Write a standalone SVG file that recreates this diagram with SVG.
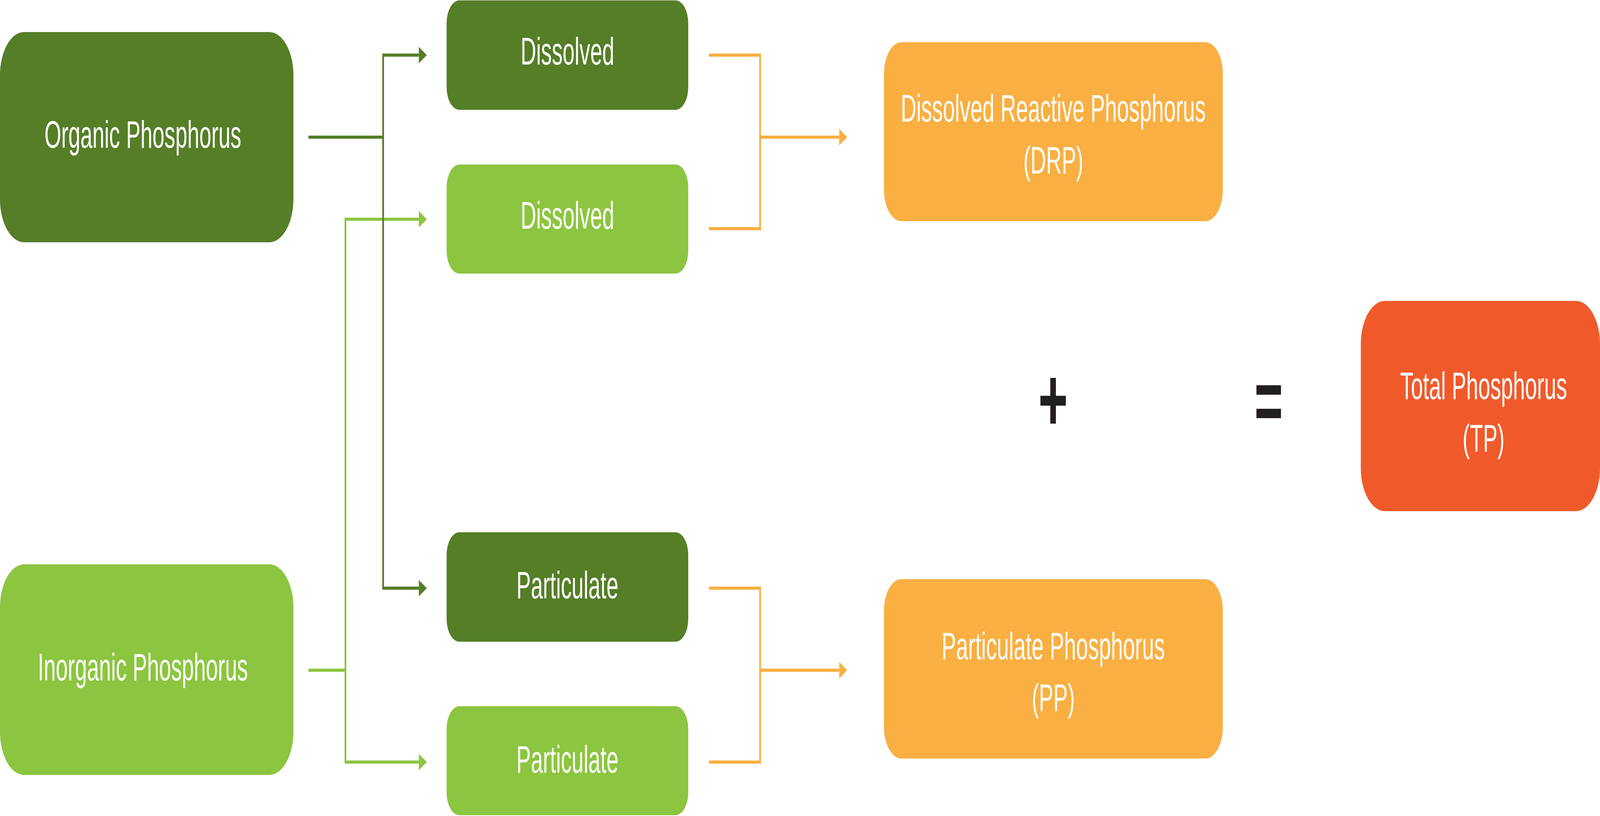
<svg xmlns="http://www.w3.org/2000/svg" width="7258" height="2088" viewBox="0 0 7258 2088" preserveAspectRatio="none" style="width:100vw;height:100vh">
  <style>
    .lbl { font-family: "Liberation Sans", Arial, sans-serif; font-size: 98px; fill: #ffffff; text-anchor: middle; }
    .op { font-family: "Liberation Sans", Arial, sans-serif; font-weight: bold; fill: #231f20; text-anchor: middle; }
    .dk { fill: #557e27; }
    .lt { fill: #8cc540; }
    .or { fill: #f9af42; }
    .rd { fill: #f05a2b; }
    .c { fill: none; stroke-width: 8; stroke-linejoin: miter; }
    .cdk { stroke: #557e27; }
    .clt { stroke: #8cc540; }
    .cor { stroke: #f9af42; }
  </style>
  <defs>
    <marker id="aDk" markerUnits="userSpaceOnUse" markerWidth="36" markerHeight="42" refX="0" refY="21" orient="auto">
      <path d="M0,0 L36,21 L0,42 Z" fill="#557e27"/>
    </marker>
    <marker id="aLt" markerUnits="userSpaceOnUse" markerWidth="36" markerHeight="42" refX="0" refY="21" orient="auto">
      <path d="M0,0 L36,21 L0,42 Z" fill="#8cc540"/>
    </marker>
    <marker id="aOr" markerUnits="userSpaceOnUse" markerWidth="36" markerHeight="42" refX="0" refY="21" orient="auto">
      <path d="M0,0 L36,21 L0,42 Z" fill="#f9af42"/>
    </marker>
  </defs>
  <rect width="7258" height="2088" fill="#ffffff"/>

  <g id="connectors">
    <path class="c clt" d="M1399,1715 H1567"/>
    <path class="c clt" d="M1567,1715 V561 H1900" marker-end="url(#aLt)"/>
    <path class="c clt" d="M1567,1715 V1950 H1900" marker-end="url(#aLt)"/>
    <path class="c cdk" d="M1399,351 H1738"/>
    <path class="c cdk" d="M1738,351 V141 H1900" marker-end="url(#aDk)"/>
    <path class="c cdk" d="M1738,351 V1505 H1900" marker-end="url(#aDk)"/>
    <path class="c cor" d="M3216,141 H3448 V585 H3216"/>
    <path class="c cor" d="M3448,351 H3807" marker-end="url(#aOr)"/>
    <path class="c cor" d="M3216,1505 H3448 V1950 H3216"/>
    <path class="c cor" d="M3448,1715 H3807" marker-end="url(#aOr)"/>
  </g>

  <g id="organic">
    <rect class="dk" x="0" y="82" width="1331" height="538" rx="110" ry="110"/>
    <text class="lbl" x="648" y="378">Organic Phosphorus</text>
  </g>
  <g id="inorganic">
    <rect class="lt" x="0" y="1444" width="1331" height="539" rx="110" ry="110"/>
    <text class="lbl" x="648" y="1741">Inorganic Phosphorus</text>
  </g>
  <g id="dissolved-organic">
    <rect class="dk" x="2026" y="1" width="1096" height="280" rx="58" ry="58"/>
    <text class="lbl" x="2574" y="165">Dissolved</text>
  </g>
  <g id="dissolved-inorganic">
    <rect class="lt" x="2026" y="421" width="1096" height="279" rx="58" ry="58"/>
    <text class="lbl" x="2574" y="585">Dissolved</text>
  </g>
  <g id="particulate-organic">
    <rect class="dk" x="2026" y="1362" width="1096" height="280" rx="58" ry="58"/>
    <text class="lbl" x="2574" y="1531">Particulate</text>
  </g>
  <g id="particulate-inorganic">
    <rect class="lt" x="2026" y="1807" width="1096" height="279" rx="58" ry="58"/>
    <text class="lbl" x="2574" y="1977">Particulate</text>
  </g>
  <g id="drp">
    <rect class="or" x="4010" y="108" width="1537" height="458" rx="80" ry="80"/>
    <text class="lbl" x="4778" y="311">Dissolved Reactive Phosphorus</text>
    <text class="lbl" x="4778" y="444">(DRP)</text>
  </g>
  <g id="pp">
    <rect class="or" x="4010" y="1482" width="1537" height="459" rx="80" ry="80"/>
    <text class="lbl" x="4778" y="1687">Particulate Phosphorus</text>
    <text class="lbl" x="4778" y="1819">(PP)</text>
  </g>
  <g id="tp">
    <rect class="rd" x="6173" y="770" width="1085" height="538" rx="110" ry="110"/>
    <text class="lbl" x="6730" y="1021">Total Phosphorus</text>
    <text class="lbl" x="6730" y="1155">(TP)</text>
  </g>
  <g id="plus">
    <text class="op" x="4777" y="1102" font-size="230">+</text>
  </g>
  <g id="equals">
    <text class="op" x="5755" y="1102" font-size="222">=</text>
  </g>
</svg>
